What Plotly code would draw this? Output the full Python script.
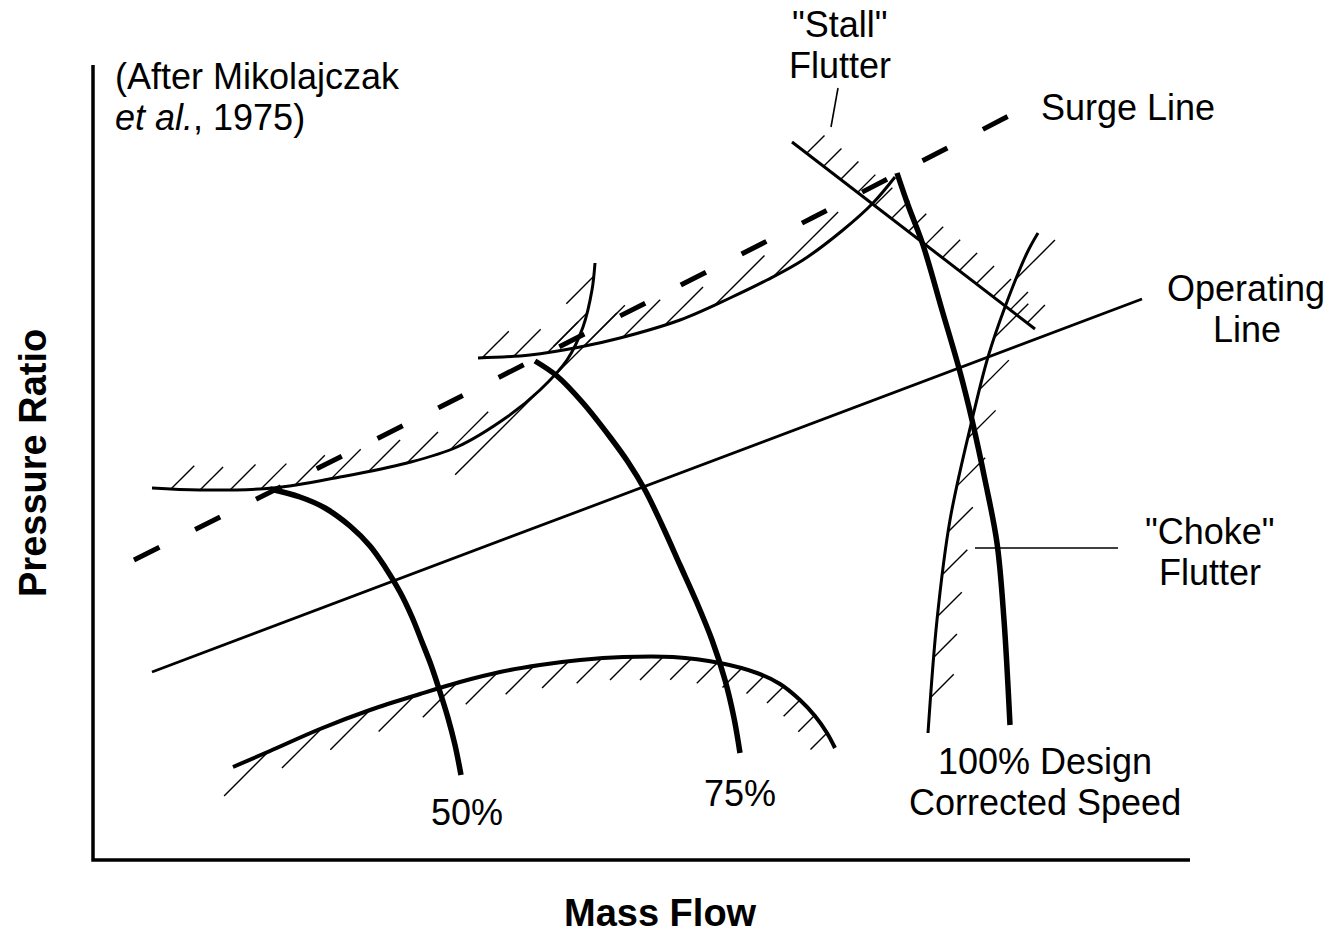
import numpy as np
import plotly.graph_objects as go

# ---------------- data (pixel-like schematic units) ----------------
AXIS_X = [93, 93, 1190]
AXIS_Y = [65, 860, 860]

STALL_LOW_X = [152, 200, 273, 340, 407, 457, 507, 540, 567, 583, 592, 595]
STALL_LOW_Y = [488, 490, 488, 477, 463, 447, 417, 390, 360, 327, 290, 263]

STALL_MID_X = [478, 530, 580, 620, 680, 730, 767, 803, 843, 873, 895]
STALL_MID_Y = [358, 355, 347, 338, 320, 298, 280, 260, 230, 203, 177]

SURGE_X = [134, 442, 812, 1020]
SURGE_Y = [560, 406, 218, 110]

OPER_X = [152, 1142]
OPER_Y = [672, 299]

SPEED50_X = [270, 300, 325, 350, 370, 385, 400, 412, 422, 431, 440, 448, 455, 461]
SPEED50_Y = [489, 497, 508, 526, 546, 567, 592, 617, 642, 665, 692, 718, 745, 775]

SPEED75_X = [535, 557, 583, 610, 628, 645, 662, 680, 697, 712, 725, 734, 740]
SPEED75_Y = [361, 376, 403, 437, 462, 490, 525, 565, 603, 640, 680, 718, 753]

SPEED100_X = [897, 908, 923, 942, 960, 972, 985, 997, 1004, 1010]
SPEED100_Y = [173, 205, 245, 310, 372, 420, 480, 543, 620, 725]

STALL_FLUTTER_X = [792, 1035]
STALL_FLUTTER_Y = [142, 329]

CHOKE_X = [928, 937, 950, 972, 988, 1005, 1027, 1038]
CHOKE_Y = [733, 620, 520, 420, 357, 307, 253, 233]

LOWER_X = [233, 270, 320, 370, 420, 460, 500, 540, 580, 623, 673, 720, 757, 780, 800, 815, 827, 835]
LOWER_Y = [767, 751, 729, 710, 694, 682, 672, 665, 660, 657, 657, 663, 673, 684, 700, 716, 733, 748]

STALL_LEADER_X = [838, 831]
STALL_LEADER_Y = [88, 127]
CHOKE_LEADER_X = [975, 1118]
CHOKE_LEADER_Y = [548, 548]

LABELS = ['"Stall"', 'Flutter', 'Surge Line', 'Operating', 'Line', '"Choke"', 'Flutter',
          '100% Design', 'Corrected Speed', '50%', '75%']
LABEL_X = [840, 840, 1040, 1246, 1247, 1210, 1210, 1045, 1045, 467, 740]
LABEL_Y = [24, 65, 107, 288, 329, 531, 572, 761, 802, 812, 793]
LABEL_ANCHOR = ['center', 'center', 'left', 'center', 'center', 'center', 'center',
                'center', 'center', 'center', 'center']

CREDIT = ['(After Mikolajczak', '<i>et al.</i>, 1975)']
CREDIT_X = [114, 114]
CREDIT_Y = [76, 117]

FONT = "Liberation Sans, Arial, Helvetica, sans-serif"


def hatch(xs, ys, spacing, width, side, cap=120.0, phase=0.0):
    """Hatch ticks (45 deg) on one side of a polyline, as a band of parallel lines."""
    pts = np.column_stack([xs, ys]).astype(float)
    d = np.array([1.0, -1.0]) / np.sqrt(2)
    hx, hy = [], []
    for i in range(len(pts) - 1):
        p0, p1 = pts[i], pts[i + 1]
        q0 = (p0.sum() + phase) / spacing
        q1 = (p1.sum() + phase) / spacing
        if q0 == q1:
            continue
        lo, hi = sorted((q0, q1))
        seg = p1 - p0
        t = seg / np.linalg.norm(seg)
        n = side * np.array([t[1], -t[0]])
        s = 1.0 if d @ n >= 0 else -1.0
        sin = abs(t[0] + t[1]) / np.sqrt(2)
        L = min(width / max(sin, 1e-3), cap)
        for k in range(int(np.floor(lo)) + 1, int(np.floor(hi)) + 1):
            f = (k - q0) / (q1 - q0)
            p = p0 + f * seg
            e = p + s * L * d
            hx += [p[0], e[0], None]
            hy += [p[1], e[1], None]
    return hx, hy


fig = go.Figure()


def add_line(x, y, w, dash=None, shape="spline"):
    fig.add_trace(go.Scatter(x=x, y=y, mode="lines", hoverinfo="skip",
                             line=dict(color="black", width=w, dash=dash, shape=shape)))


# hatching
for xs, ys, sp, wd, sd in [
    (STALL_LOW_X, STALL_LOW_Y, 30, 24, 1),
    (STALL_MID_X, STALL_MID_Y, 30, 25, 1),
    (STALL_FLUTTER_X, STALL_FLUTTER_Y, 30, 25, 1),
    (CHOKE_X, CHOKE_Y, 37, 21, -1),
    (LOWER_X, LOWER_Y, 30, 23, -1),
]:
    hx, hy = hatch(xs, ys, sp, wd, sd)
    add_line(hx, hy, 1.4, shape="linear")

# axes
add_line(AXIS_X, AXIS_Y, 3.5, shape="linear")

# boundaries
add_line(STALL_LOW_X, STALL_LOW_Y, 3)
add_line(STALL_MID_X, STALL_MID_Y, 3)
add_line(STALL_FLUTTER_X, STALL_FLUTTER_Y, 3, shape="linear")
add_line(CHOKE_X, CHOKE_Y, 3)
add_line(LOWER_X, LOWER_Y, 4)
add_line(OPER_X, OPER_Y, 2.8, shape="linear")
add_line(SURGE_X, SURGE_Y, 5, dash="28px,40px")

# speed lines
add_line(SPEED50_X, SPEED50_Y, 5.5)
add_line(SPEED75_X, SPEED75_Y, 5.5)
add_line(SPEED100_X, SPEED100_Y, 5.5)

# leaders
add_line(STALL_LEADER_X, STALL_LEADER_Y, 1.6, shape="linear")
add_line(CHOKE_LEADER_X, CHOKE_LEADER_Y, 1.6, shape="linear")

annotations = []
for txt, x, y, a in zip(LABELS, LABEL_X, LABEL_Y, LABEL_ANCHOR):
    annotations.append(dict(text=txt, x=x, y=y, xref="x", yref="y", xanchor=a,
                            yanchor="middle", showarrow=False, borderpad=0,
                            font=dict(family=FONT, size=36, color="black")))
for txt, x, y in zip(CREDIT, CREDIT_X, CREDIT_Y):
    annotations.append(dict(text=txt, x=x, y=y, xref="x", yref="y", xanchor="left",
                            yanchor="middle", showarrow=False, borderpad=0,
                            font=dict(family=FONT, size=36, color="black")))
annotations.append(dict(text="<b>Pressure Ratio</b>", x=33, y=463, xref="x", yref="y",
                        textangle=-90, showarrow=False, xanchor="center", yanchor="middle",
                        font=dict(family=FONT, size=38, color="black")))
annotations.append(dict(text="<b>Mass Flow</b>", x=660, y=913, xref="x", yref="y",
                        showarrow=False, xanchor="center", yanchor="middle",
                        font=dict(family=FONT, size=38, color="black")))

fig.update_layout(
    width=1338, height=934, margin=dict(l=0, r=0, t=0, b=0),
    paper_bgcolor="white", plot_bgcolor="white", showlegend=False,
    xaxis=dict(range=[0, 1338], visible=False, fixedrange=True),
    yaxis=dict(range=[934, 0], visible=False, fixedrange=True),
    annotations=annotations,
)

fig.write_html("out.html", include_plotlyjs=True, full_html=True,
               config={"displayModeBar": False, "staticPlot": True},
               post_script="document.body.style.margin='0';document.body.style.overflow='hidden';")
